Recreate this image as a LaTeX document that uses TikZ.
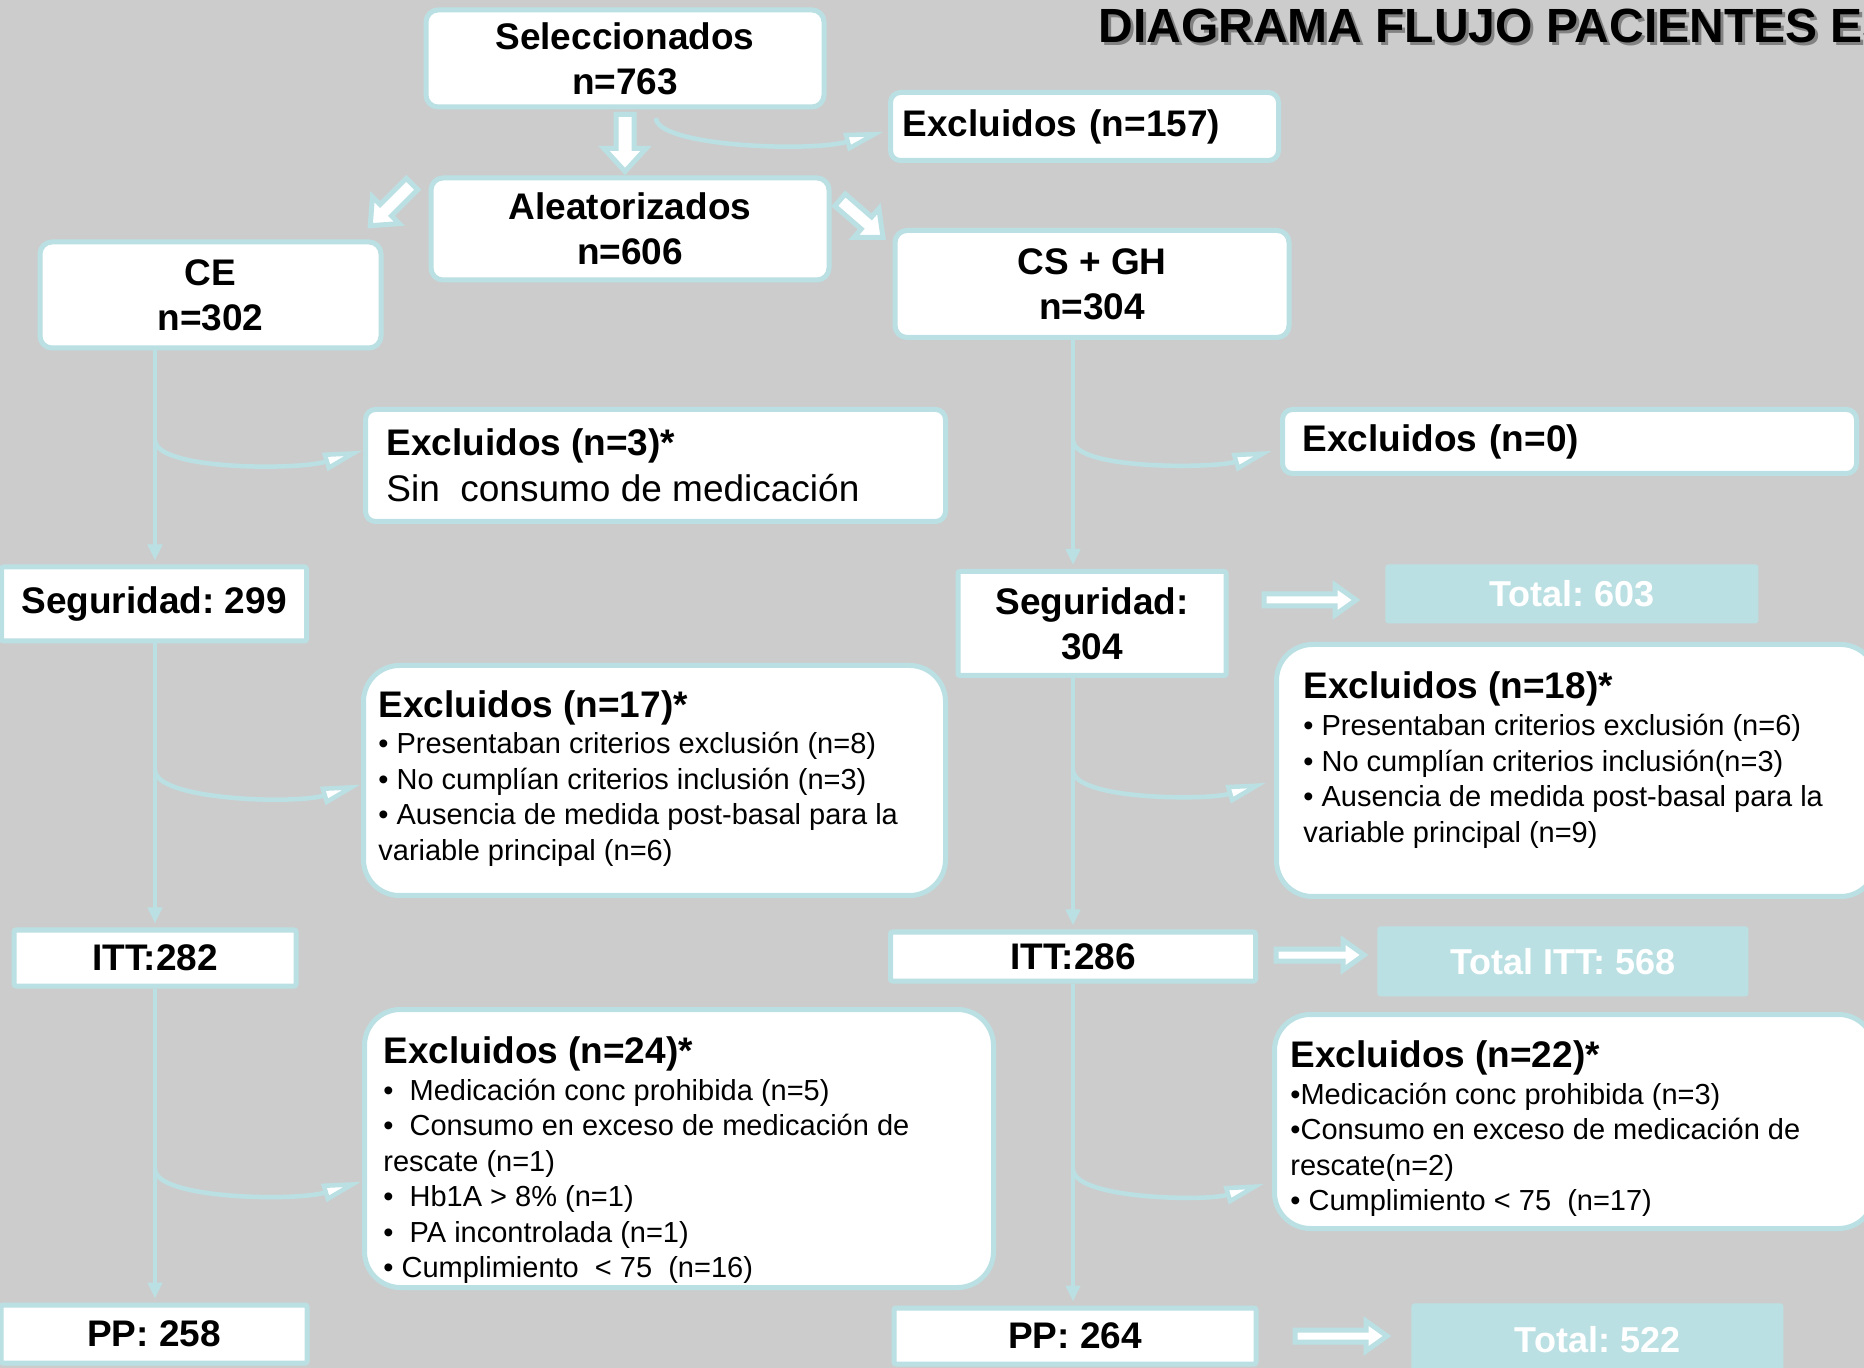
\documentclass[tikz,border=0pt]{standalone}
\usepackage{fontspec}
\setmainfont{Liberation Sans}
\frenchspacing
\usetikzlibrary{arrows.meta,calc}
\definecolor{tealb}{RGB}{187,224,227}
\definecolor{bggray}{RGB}{204,204,204}
\definecolor{shad}{RGB}{130,130,130}
\newcommand{\blockarr}[6]{%
  \begin{scope}[shift={#1},rotate=#2]
    \draw[barr] (0,-#4) -- ({#3-#6},-#4) -- ({#3-#6},-#5) -- (#3,0) -- ({#3-#6},#5) -- ({#3-#6},#4) -- (0,#4) -- cycle;
  \end{scope}}
\tikzset{
  basebox/.style={draw=tealb, line width=2.5pt, fill=white, inner sep=0pt, align=center, font=\fontsize{18.5}{22.5}\selectfont\bfseries},
  rbox/.style={basebox, rounded corners=6pt},
  sbox/.style={basebox, rounded corners=1pt},
  exbox/.style={basebox, rounded corners=5pt},
  bigbox/.style={basebox, rounded corners=18pt},
  totbox/.style={fill=tealb, rounded corners=1.5pt, text=white, inner sep=0pt, font=\fontsize{18}{22}\selectfont\bfseries},
  vline/.style={draw=tealb, line width=2pt, -{Triangle[length=8pt,width=7pt]}, shorten >=2pt},
  branch/.style={draw=tealb, line width=2.25pt, -{Triangle[length=20pt,width=9pt,fill=white]}},
  barr/.style={draw=tealb, fill=white, line width=2.5pt, line join=miter},
  head/.style={anchor=base west, inner sep=0pt, font=\fontsize{18.5}{22.5}\selectfont\bfseries},
  bul/.style={anchor=base west, inner sep=0pt, font=\fontsize{14.5}{17.75}\selectfont},
  titlestyle/.style={anchor=base west, inner sep=0pt, font=\fontsize{24}{28}\selectfont\bfseries},
}
\begin{document}
\begin{tikzpicture}[x=0.5pt,y=-0.5pt]
\fill[bggray] (0,0) rectangle (1864,1368);
\useasboundingbox (0,0) rectangle (1864,1368);
\clip (0,0) rectangle (1864,1368);

% title
\node[titlestyle, text=shad] (titleshadow) at (1101,46) {DIAGRAMA FLUJO PACIENTES ES};
\node[titlestyle] (title) at (1098,43) {DIAGRAMA FLUJO PACIENTES ES};

% top boxes
\node[rbox, minimum width=199pt, minimum height=48.5pt] (sel) at (625,58.5) {Seleccionados\\n=763};
\node[exbox, anchor=north west, minimum width=194pt, minimum height=34pt, text width=182pt, inner xsep=6pt, align=left] (ex157) at (888,90) {Excluidos (n=157)};
\node[rbox, minimum width=199pt, minimum height=51pt] (alea) at (630,229) {Aleatorizados\\n=606};
\node[rbox, minimum width=170.5pt, minimum height=53pt] (ce) at (210.5,295) {CE\\n=302};
\node[rbox, minimum width=197pt, minimum height=53.5pt] (csgh) at (1092,284) {CS + GH\\n=304};

% block arrows
\blockarr{($(sel.south)+(0,5)$)}{-90}{57}{9}{21}{23}
\blockarr{(412,184)}{-135}{59}{8}{19}{22}
\blockarr{(840,200)}{-41}{57}{8}{19}{22}
\blockarr{(1264,600)}{0}{92}{6}{15}{21}
\blockarr{(1276,955)}{0}{88}{6}{15}{21}
\blockarr{(1295,1336)}{0}{92}{6}{15}{21}

% first exclusion row
\node[exbox, anchor=north west, minimum width=290pt, minimum height=56pt] (ex3) at (363,407) {};
\node[head] (h3) at (386,456) {Excluidos (n=3)*};
\node[head, font=\fontsize{18.5}{22.5}\selectfont] (s3) at (386,502) {Sin\ \ consumo de medicación};
\node[exbox, anchor=north west, minimum width=287pt, minimum height=32pt, text width=267pt, inner xsep=10pt, align=left] (ex0) at (1280,407) {Excluidos (n=0)};

% safety
\node[sbox, minimum width=152.5pt, minimum height=37pt] (seg299) at (154,604) {Seguridad: 299};
\node[sbox, minimum width=134pt, minimum height=52pt] (seg304) at (1092,623.5) {Seguridad:\\304};
\node[totbox, anchor=north west, minimum width=186.5pt, minimum height=29.5pt] (tot603) at (1385,564) {Total: 603};

% second exclusion row
\node[bigbox, anchor=north west, minimum width=291pt, minimum height=115pt] (ex17) at (361,663) {};
\node[head] (h17) at (378,718) {Excluidos (n=17)*};
\node[bul] (l17) at (378,754) {\vtop{\hbox{• Presentaban criterios exclusión (n=8)}\hbox{• No cumplían criterios inclusión (n=3)}\hbox{• Ausencia de medida post-basal para la}\hbox{variable principal (n=6)}}};
\node[bigbox, anchor=north west, minimum width=300pt, minimum height=126pt] (ex18) at (1274,642) {};
\node[head] (h18) at (1303,699) {Excluidos (n=18)*};
\node[bul] (l18) at (1303,736) {\vtop{\hbox{• Presentaban criterios exclusión (n=6)}\hbox{• No cumplían criterios inclusión(n=3)}\hbox{• Ausencia de medida post-basal para la}\hbox{variable principal (n=9)}}};

% ITT
\node[sbox, minimum width=141pt, minimum height=28pt] (itt282) at (155,958) {ITT:282};
\node[sbox, minimum width=182.5pt, minimum height=24.5pt] (itt286) at (1073,956.5) {ITT:286};
\node[totbox, anchor=north west, minimum width=185.5pt, minimum height=35pt] (totitt) at (1377,926) {Total ITT: 568};

% third exclusion row
\node[bigbox, anchor=north west, minimum width=314.5pt, minimum height=139pt] (ex24) at (362,1007) {};
\node[head] (h24) at (383,1063) {Excluidos (n=24)*};
\node[bul] (l24) at (383,1100) {\vtop{\hbox{•\ \ Medicación conc prohibida (n=5)}\hbox{•\ \ Consumo en exceso de medicación de}\hbox{rescate (n=1)}\hbox{•\ \ Hb1A > 8\% (n=1)}\hbox{•\ \ PA incontrolada (n=1)}\hbox{• Cumplimiento\ \ < 75\ \ (n=16)}}};
\node[bigbox, anchor=north west, minimum width=300pt, minimum height=107pt] (ex22) at (1272,1012) {};
\node[head] (h22) at (1290,1067) {Excluidos (n=22)*};
\node[bul] (l22) at (1290,1104) {\vtop{\hbox{•Medicación conc prohibida (n=3)}\hbox{•Consumo en exceso de medicación de}\hbox{rescate(n=2)}\hbox{• Cumplimiento < 75\ \ (n=17)}}};

% PP
\node[sbox, minimum width=153pt, minimum height=29pt] (pp258) at (154,1334) {PP: 258};
\node[sbox, minimum width=181pt, minimum height=28pt] (pp264) at (1075,1336) {PP: 264};
\node[totbox, anchor=north west, minimum width=186pt, minimum height=36pt] (tot522) at (1411,1303) {Total: 522};

% vertical connectors
\draw[vline] (itt282.north |- ce.south) -- (itt282.north |- seg299.north);
\draw[vline] (itt282.north |- seg299.south) -- (itt282.north);
\draw[vline] (itt282.south) -- (itt282.south |- pp258.north);
\draw[vline] (itt286.north |- csgh.south) -- (itt286.north |- seg304.north);
\draw[vline] (itt286.north |- seg304.south) -- (itt286.north);
\draw[vline] (itt286.south) -- (itt286.south |- pp264.north);

% branch start points
\coordinate (bs0) at (656,118);
\coordinate (bl1) at (155,440);
\coordinate (bl2) at (155,770);
\coordinate (bl3) at (155,1169);
\coordinate (br1) at (1073,440);
\coordinate (br2) at (1073,770);
\coordinate (br3) at (1073,1169);

% branches
\draw[branch, shorten >=2pt] (bs0) .. controls +(0,28) and +(-80,22) .. ([yshift=-2pt]ex157.west);
\draw[branch] (bl1) .. controls +(0,30) and +(-67,20) .. ([yshift=7.5pt]ex3.west);
\draw[branch] (bl2) .. controls +(0,30) and +(-67,20) .. ([yshift=-2pt]ex17.west);
\draw[branch] (bl3) .. controls +(0,30) and +(-67,20) .. ([yshift=-16.5pt]ex24.west);
\draw[branch, shorten >=4pt] (br1) .. controls +(0,30) and +(-67,20) .. ([yshift=-3.5pt]ex0.west);
\draw[branch, shorten >=4pt] (br2) .. controls +(0,30) and +(-67,20) .. ([yshift=-5pt]ex18.west);
\draw[branch, shorten >=4pt] (br3) .. controls +(0,30) and +(-67,20) .. ([yshift=-30pt]ex22.west);
\end{tikzpicture}
\end{document}
